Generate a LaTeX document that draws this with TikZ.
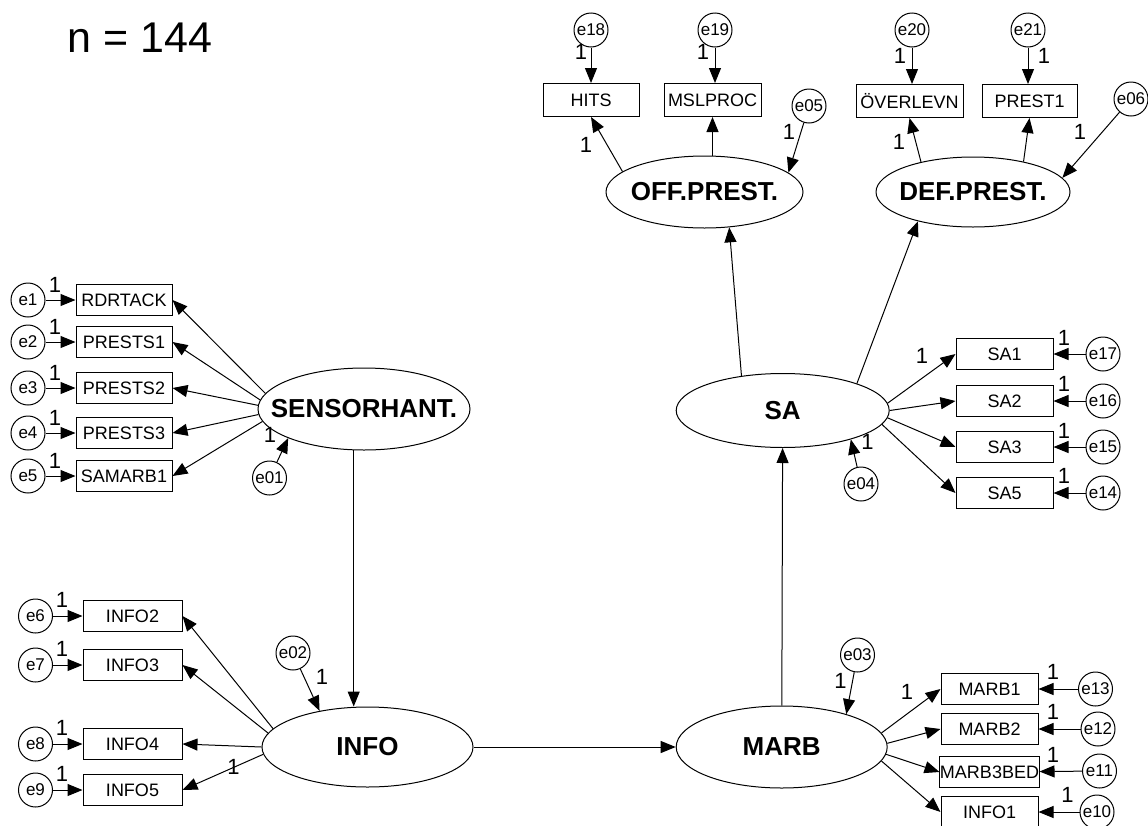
\documentclass[tikz,border=0pt]{standalone}
\usepackage{fontspec}
\setmainfont{Liberation Sans}
\usetikzlibrary{shapes.geometric,arrows.meta}

\newcommand{\lv}[1]{\makebox[0pt]{#1}}

\tikzset{
    obs/.style={draw, rectangle, minimum width=97pt, minimum height=31pt, inner sep=0pt, font=\fontsize{18}{20}\selectfont},
    err/.style={draw, circle, minimum size=34pt, inner sep=0pt, font=\fontsize{17}{19}\selectfont},
    latent/.style={draw, ellipse, inner sep=0pt, font=\fontsize{26}{28}\selectfont\bfseries},
    one/.style={inner sep=0pt, font=\fontsize{22}{24}\selectfont},
    arr/.style={-{Triangle[length=15pt,width=12pt]}}
}

\begin{document}
\begin{tikzpicture}[x=1pt, y=-1pt, line width=1pt]
    \useasboundingbox (0,0) rectangle (1148,825);
    \node[anchor=base, inner sep=0pt, font=\fontsize{43}{46}\selectfont] (n) at (140,52) {n = 144};

    \node[latent, minimum width=212pt, minimum height=82pt] (sens) at (364,409) {\lv{SENSORHANT.}};
    \node[latent, minimum width=211pt, minimum height=80pt] (info) at (367.5,747) {\lv{INFO}};
    \node[latent, minimum width=211pt, minimum height=82pt] (marb) at (781.7,747) {\lv{MARB}};
    \node[latent, minimum width=213pt, minimum height=74pt] (sa) at (782.7,410.5) {\lv{SA}};
    \node[latent, minimum width=197pt, minimum height=72pt] (off) at (704.5,192) {\lv{OFF.PREST.}};
    \node[latent, minimum width=194pt, minimum height=70pt] (def) at (973,192) {\lv{DEF.PREST.}};

    \node[obs, minimum width=96pt] (rdr) at (124,300) {RDRTACK};
    \node[obs, minimum width=96pt] (ps1) at (124,342) {PRESTS1};
    \node[obs, minimum width=96pt] (ps2) at (124,388) {PRESTS2};
    \node[obs, minimum width=96pt] (ps3) at (124,433) {PRESTS3};
    \node[obs, minimum width=96pt] (sam) at (124,476) {SAMARB1};
    \node[err] (e1) at (28,300) {e1};
    \node[err] (e2) at (28,342) {e2};
    \node[err] (e3) at (28,388) {e3};
    \node[err] (e4) at (28,433) {e4};
    \node[err] (e5) at (28,476) {e5};
    \node[err] (e01) at (269.5,478) {e01};

    \node[obs, minimum width=99pt] (in2) at (132.5,616) {INFO2};
    \node[obs, minimum width=99pt] (in3) at (132.5,665) {INFO3};
    \node[obs, minimum width=99pt] (in4) at (132.5,744) {INFO4};
    \node[obs, minimum width=99pt] (in5) at (132.5,790) {INFO5};
    \node[err] (e6) at (35.5,616) {e6};
    \node[err] (e7) at (35.5,665) {e7};
    \node[err] (e8) at (35.5,744) {e8};
    \node[err] (e9) at (35.5,790) {e9};
    \node[err] (e02) at (293,653) {e02};

    \node[obs] (mb1) at (989.5,689) {MARB1};
    \node[obs] (mb2) at (989.5,729) {MARB2};
    \node[obs] (mb3) at (989.5,772) {MARB3BED};
    \node[obs] (in1) at (989.5,812) {INFO1};
    \node[err] (e13) at (1095.5,689) {e13};
    \node[err] (e12) at (1098,729) {e12};
    \node[err] (e11) at (1099.5,771) {e11};
    \node[err] (e10) at (1097,812) {e10};
    \node[err] (e03) at (857.5,655) {e03};

    \node[obs] (sa1) at (1004.5,354) {SA1};
    \node[obs] (sa2) at (1004.5,401) {SA2};
    \node[obs] (sa3) at (1004.5,447) {SA3};
    \node[obs] (sa5) at (1004.5,493) {SA5};
    \node[err] (e17) at (1103,354) {e17};
    \node[err] (e16) at (1103,401) {e16};
    \node[err] (e15) at (1103,447) {e15};
    \node[err] (e14) at (1103,493) {e14};
    \node[err] (e04) at (861,484) {e04};

    \node[obs, minimum width=96pt, minimum height=33pt] (hits) at (591,100) {HITS};
    \node[obs, minimum height=33pt] (msl) at (712.5,100) {MSLPROC};
    \node[obs, minimum width=107pt, minimum height=33pt] (over) at (909.5,101) {ÖVERLEVN};
    \node[obs, minimum width=95pt, minimum height=33pt] (pr1) at (1029.5,101) {PREST1};
    \node[err] (e18) at (591,30) {e18};
    \node[err] (e19) at (715,30) {e19};
    \node[err] (e20) at (912,30) {e20};
    \node[err] (e21) at (1028,30) {e21};
    \node[err] (e05) at (809,106) {e05};
    \node[err] (e06) at (1131,99) {e06};

    \draw[arr] (e1) -- (rdr);
    \draw[arr] (e2) -- (ps1);
    \draw[arr] (e3) -- (ps2);
    \draw[arr] (e4) -- (ps3);
    \draw[arr] (e5) -- (sam);
    \draw[arr] (sens.171) -- (rdr.east);
    \draw[arr] (sens.175) -- (ps1.east);
    \draw[arr] (sens.178) -- (ps2.east);
    \draw[arr] (sens.183) -- (ps3.east);
    \draw[arr] (sens.187) -- (sam.east);
    \draw[arr] (e01) -- (sens.201);
    \draw[arr] (sens.256) -- (sens.256 |- info.north);

    \draw[arr] (e6) -- (in2);
    \draw[arr] (e7) -- (in3);
    \draw[arr] (e8) -- (in4);
    \draw[arr] (e9) -- (in5);
    \draw[arr] (info.169) -- (in2.east);
    \draw[arr] (info.172) -- (in3.east);
    \draw[arr] (info.180) -- (in4.east);
    \draw[arr] (info.184) -- (in5.east);
    \draw[arr] (e02) -- (info.143);
    \draw[arr] (info) -- (marb);

    \draw[arr] (marb) -- (sa);
    \draw[arr] (marb.8) -- (mb1.west);
    \draw[arr] (marb.2) -- (mb2.west);
    \draw[arr] (marb.356) -- (mb3.west);
    \draw[arr] (marb.352) -- (in1.west);
    \draw[arr] (e13) -- (mb1);
    \draw[arr] (e12) -- (mb2);
    \draw[arr] (e11) -- (mb3);
    \draw[arr] (e10) -- (in1);
    \draw[arr] (e03) -- (marb.27);

    \draw[arr] (sa.4) -- (sa1.west);
    \draw[arr] (sa.0) -- (sa2.west);
    \draw[arr] (sa.356) -- (sa3.west);
    \draw[arr] (sa.352) -- (sa5.west);
    \draw[arr] (e17) -- (sa1);
    \draw[arr] (e16) -- (sa2);
    \draw[arr] (e15) -- (sa3);
    \draw[arr] (e14) -- (sa5);
    \draw[arr] (e04) -- (sa.337);
    \draw[arr] (sa.140) -- (off.305);
    \draw[arr] (sa.20) -- (def.208);

    \draw[arr] (off.166) -- (hits.south);
    \draw[arr] (msl.south |- off.north) -- (msl.south);
    \draw[arr] (e05) -- (off.13);
    \draw[arr] (def.150) -- (over.south);
    \draw[arr] (def.31) -- (pr1.south);
    \draw[arr] (e06) -- (def.9);
    \draw[arr] (e18) -- (hits);
    \draw[arr] (e19) -- (e19 |- msl.north);
    \draw[arr] (e20) -- (e20 |- over.north);
    \draw[arr] (e21) -- (e21 |- pr1.north);

    \node[one] (w1) at (55,285) {1};
    \node[one] (w2) at (55,327) {1};
    \node[one] (w3) at (55,373) {1};
    \node[one] (w4) at (55,418) {1};
    \node[one] (w5) at (55,461) {1};
    \node[one] (w01) at (270,435) {1};
    \node[one] (w6) at (62,600) {1};
    \node[one] (w7) at (62,649) {1};
    \node[one] (w8) at (62,728) {1};
    \node[one] (w9) at (62,774) {1};
    \node[one] (win5) at (233.5,767) {1};
    \node[one] (w02) at (322,677) {1};
    \node[one] (w03) at (840.5,681) {1};
    \node[one] (wmb1) at (907,692) {1};
    \node[one] (w13) at (1053,672) {1};
    \node[one] (w12) at (1053,712) {1};
    \node[one] (w11) at (1053,755) {1};
    \node[one] (w10) at (1067.5,795) {1};
    \node[one] (w17) at (1064,338) {1};
    \node[one] (w16) at (1064,384) {1};
    \node[one] (w15) at (1064,431) {1};
    \node[one] (w14) at (1064,476) {1};
    \node[one] (wsa1) at (922,356) {1};
    \node[one] (w04) at (867.5,442) {1};
    \node[one] (w18) at (581,52) {1};
    \node[one] (w19) at (703,52) {1};
    \node[one] (w20) at (900,56) {1};
    \node[one] (w21) at (1044,56) {1};
    \node[one] (whits) at (586,145) {1};
    \node[one] (w05) at (789,132) {1};
    \node[one] (wover) at (899,142) {1};
    \node[one] (w06) at (1080,132) {1};
\end{tikzpicture}
\end{document}
